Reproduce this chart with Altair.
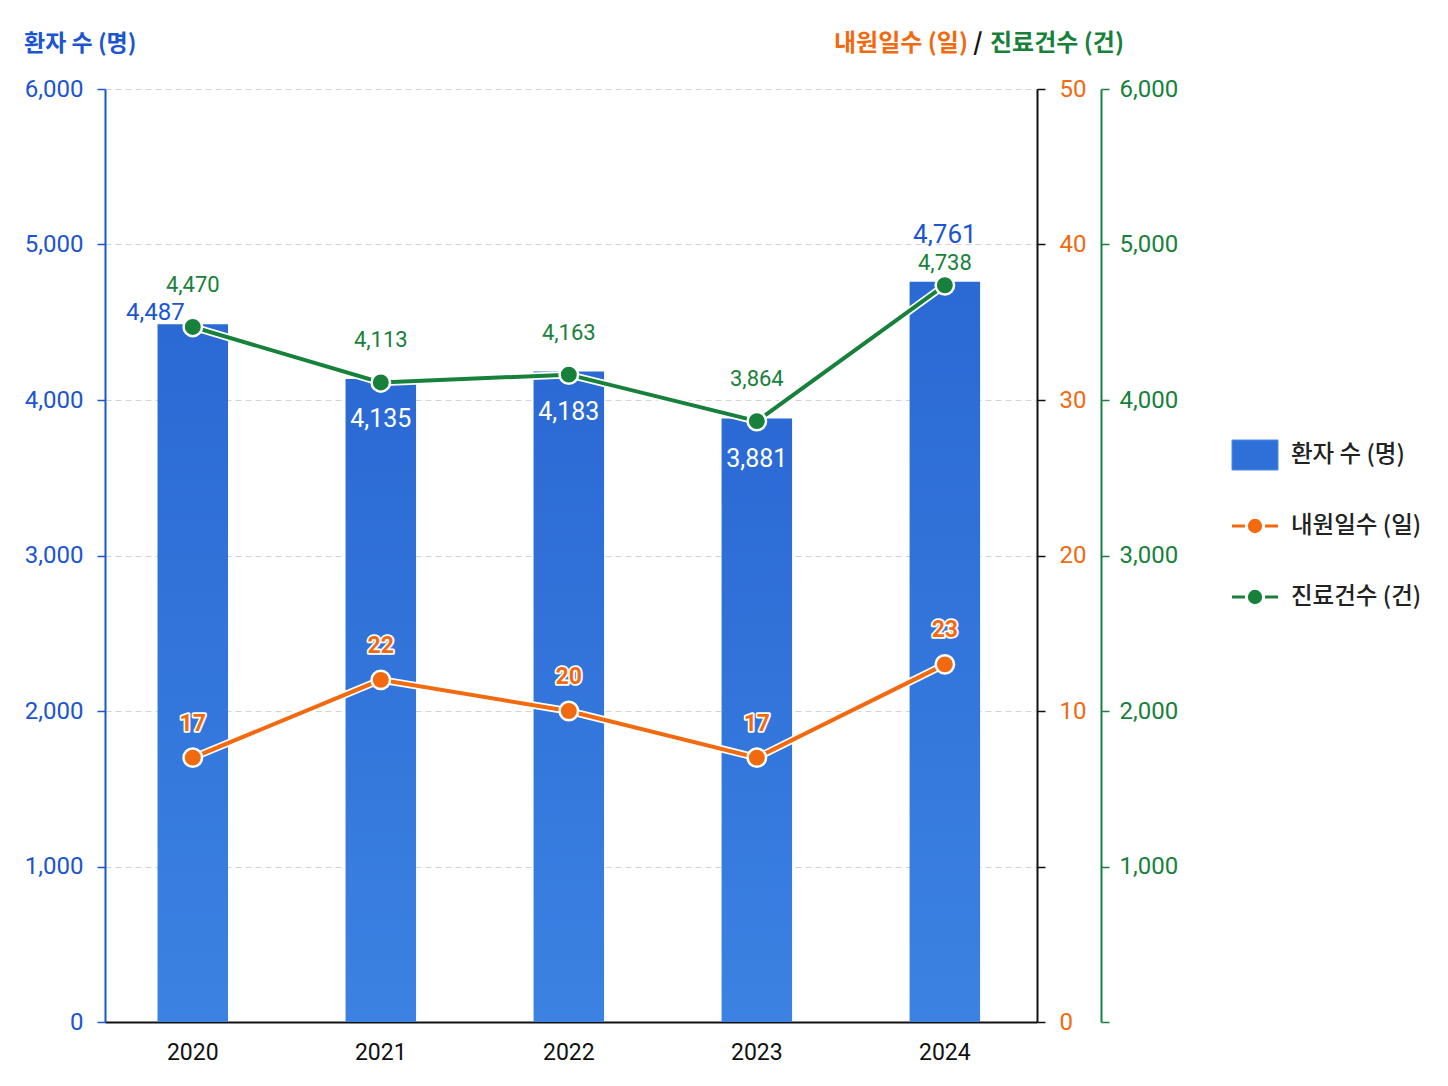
import altair as alt
import pandas as pd

years = ["2020", "2021", "2022", "2023", "2024"]
patients = [4487, 4135, 4183, 3881, 4761]
visit_days = [17, 22, 20, 17, 23]
treatments = [4470, 4113, 4163, 3864, 4738]
series_names = ["환자 수 (명)", "내원일수 (일)", "진료건수 (건)"]
left_ticks = [0, 1000, 2000, 3000, 4000, 5000, 6000]
day_ticks = [0, 10, 20, 30, 40, 50, 60]

BLUE_AX = "#1b55cf"
BAR = "#2f70d8"
ORANGE = "#f26a10"
GREEN = "#17813b"
NUM_FONT = "Roboto"
KR_FONT = "Noto Sans CJK KR"

df = pd.DataFrame({"year": years, "patients": patients,
                   "visit_days": visit_days, "treatments": treatments})
base = alt.Chart(df)

xenc = alt.X("year:N", sort=years,
             scale=alt.Scale(paddingInner=0.625, paddingOuter=0.291, align=0.48),
             axis=alt.Axis(title=None, labelAngle=0, ticks=False, domainColor="#111111",
                           domainWidth=2, labelFont=NUM_FONT, labelFontSize=23,
                           labelColor="#111111", labelPadding=19, grid=False))

y_left = alt.Y("patients:Q", scale=alt.Scale(domain=[0, 6000], nice=False),
               axis=alt.Axis(values=left_ticks, title=None,
                             labelExpr="format(datum.value, ',')",
                             labelColor=BLUE_AX, domainColor=BLUE_AX, tickColor=BLUE_AX,
                             tickSize=8, domainWidth=2, tickWidth=1.5,
                             labelFont=NUM_FONT, labelFontSize=24, labelPadding=14,
                             grid=True, gridDash=[6, 4], gridColor="#d4d4d4", gridWidth=1))

y_day = alt.Y("visit_days:Q", scale=alt.Scale(domain=[0, 60], nice=False),
              axis=alt.Axis(orient="right", values=day_ticks, title=None,
                            labelExpr="datum.value == 0 ? '0' : (datum.value == 10 ? '' : toString(datum.value - 10))",
                            domainColor="#111111", tickColor="#111111", labelColor=ORANGE,
                            tickSize=8, domainWidth=2, tickWidth=1.5, labelPadding=14,
                            labelFont=NUM_FONT, labelFontSize=24, grid=False))

y_treat = alt.Y("treatments:Q", scale=alt.Scale(domain=[0, 6000], nice=False),
                axis=alt.Axis(orient="right", offset=64, values=left_ticks, title=None,
                              labelExpr="datum.value == 0 ? '' : format(datum.value, ',')",
                              domainColor=GREEN, tickColor=GREEN, labelColor=GREEN,
                              tickSize=8, domainWidth=2, tickWidth=1.5, labelPadding=10,
                              labelFont=NUM_FONT, labelFontSize=24, grid=False))

grad = alt.Gradient(gradient="linear",
                    stops=[alt.GradientStop(color="#2b69d4", offset=0),
                           alt.GradientStop(color="#3b82e2", offset=1)],
                    x1=0, x2=0, y1=0, y2=1)

bars = base.mark_bar(color=grad).encode(x=xenc, y=y_left)
ptext = alt.Text("patients:Q", format=",")
lab_2020 = base.transform_filter(alt.datum.year == "2020").mark_text(
    align="right", baseline="bottom", dx=-8, dy=1, color=BLUE_AX,
    font=NUM_FONT, fontSize=24).encode(x=xenc, y=y_left, text=ptext)
lab_mid = base.transform_filter(
    (alt.datum.year != "2020") & (alt.datum.year != "2024")).mark_text(
    baseline="middle", dy=40, color="white", font=NUM_FONT, fontSize=25).encode(
    x=xenc, y=y_left, text=ptext)
lab_2024 = base.transform_filter(alt.datum.year == "2024").mark_text(
    baseline="middle", dy=-47, color=BLUE_AX, font=NUM_FONT, fontSize=26).encode(
    x=xenc, y=y_left, text=ptext)
bar_layer = alt.layer(bars, lab_2020, lab_mid, lab_2024)

dtext = alt.Text("visit_days:Q")
o_halo = base.mark_line(color="white", strokeWidth=7.5).encode(x=xenc, y=y_day)
o_line = base.mark_line(color=ORANGE, strokeWidth=4).encode(x=xenc, y=y_day)
o_pts = base.mark_circle(size=340, color=ORANGE, opacity=1, stroke="white",
                         strokeWidth=2.5).encode(x=xenc, y=y_day)
o_lab_h = base.mark_text(dy=-34, color="white", stroke="white", strokeWidth=3.5,
                         strokeJoin="round", font=NUM_FONT, fontSize=23,
                         fontWeight="bold").encode(x=xenc, y=y_day, text=dtext)
o_lab = base.mark_text(dy=-34, color=ORANGE, font=NUM_FONT, fontSize=23,
                       fontWeight="bold").encode(x=xenc, y=y_day, text=dtext)
orange_layer = alt.layer(o_halo, o_line, o_pts, o_lab_h, o_lab)

ttext = alt.Text("treatments:Q", format=",")
g_halo = base.mark_line(color="white", strokeWidth=7.5).encode(x=xenc, y=y_treat)
g_line = base.mark_line(color=GREEN, strokeWidth=4).encode(x=xenc, y=y_treat)
g_pts = base.mark_circle(size=340, color=GREEN, opacity=1, stroke="white",
                         strokeWidth=2.5).encode(x=xenc, y=y_treat)
g_lab = base.transform_filter(alt.datum.year != "2024").mark_text(
    dy=-42, color=GREEN, font=NUM_FONT, fontSize=22).encode(x=xenc, y=y_treat, text=ttext)
g_lab24 = base.transform_filter(alt.datum.year == "2024").mark_text(
    dy=-22, color=GREEN, font=NUM_FONT, fontSize=22).encode(x=xenc, y=y_treat, text=ttext)
green_layer = alt.layer(g_halo, g_line, g_pts, g_lab, g_lab24)

# titles and legend
names_df = pd.DataFrame({"label": series_names})
nb = alt.Chart(names_df)


def pick(i):
    return nb.transform_filter(alt.datum.label == series_names[i])


t_left = pick(0).mark_text(align="left", baseline="middle", color=BLUE_AX, font=KR_FONT,
                           fontSize=23, fontWeight="bold").encode(
    x=alt.value(-81), y=alt.value(-45), text="label:N")
t_or = pick(1).mark_text(align="left", baseline="middle", color=ORANGE, font=KR_FONT,
                         fontSize=24, fontWeight="bold").encode(
    x=alt.value(729), y=alt.value(-45), text="label:N")
t_slash = pick(1).mark_text(align="center", baseline="middle", color="#111111", font=KR_FONT,
                            fontSize=24, fontWeight="bold", text="/").encode(
    x=alt.value(873), y=alt.value(-45))
t_gr = pick(2).mark_text(align="left", baseline="middle", color=GREEN, font=KR_FONT,
                         fontSize=24, fontWeight="bold").encode(
    x=alt.value(885), y=alt.value(-45), text="label:N")

leg_x0, leg_x1, leg_tx = 1127, 1173, 1186
leg_rect = pick(0).mark_rect(color=BAR, stroke="#4a8ae6", strokeWidth=1).encode(
    x=alt.value(leg_x0), x2=alt.value(leg_x1), y=alt.value(351), y2=alt.value(381))
leg_t0 = pick(0).mark_text(align="left", baseline="middle", color="#222222", font=KR_FONT,
                           fontSize=23.5, fontWeight=500).encode(
    x=alt.value(leg_tx), y=alt.value(366), text="label:N")
leg_r1 = pick(1).mark_rule(color=ORANGE, strokeWidth=3).encode(
    x=alt.value(leg_x0), x2=alt.value(leg_x1), y=alt.value(437))
leg_p1 = pick(1).mark_circle(size=300, color=ORANGE, opacity=1, stroke="white",
                             strokeWidth=3).encode(x=alt.value(1150), y=alt.value(437))
leg_t1 = pick(1).mark_text(align="left", baseline="middle", color="#222222", font=KR_FONT,
                           fontSize=23.5, fontWeight=500).encode(
    x=alt.value(leg_tx), y=alt.value(437), text="label:N")
leg_r2 = pick(2).mark_rule(color=GREEN, strokeWidth=3).encode(
    x=alt.value(leg_x0), x2=alt.value(leg_x1), y=alt.value(508))
leg_p2 = pick(2).mark_circle(size=300, color=GREEN, opacity=1, stroke="white",
                             strokeWidth=3).encode(x=alt.value(1150), y=alt.value(508))
leg_t2 = pick(2).mark_text(align="left", baseline="middle", color="#222222", font=KR_FONT,
                           fontSize=23.5, fontWeight=500).encode(
    x=alt.value(leg_tx), y=alt.value(508), text="label:N")

chart = alt.layer(
    bar_layer, orange_layer, green_layer,
    t_left, t_or, t_slash, t_gr,
    leg_rect, leg_t0, leg_r1, leg_p1, leg_t1, leg_r2, leg_p2, leg_t2,
).resolve_scale(y="independent").properties(
    width=932, height=933,
    autosize=alt.AutoSizeParams(type="none"),
    padding={"left": 97, "top": 81, "right": 395, "bottom": 58},
    background="white",
).configure_view(stroke=None)

chart.save("out.html", embed_options={"renderer": "svg", "actions": False})
